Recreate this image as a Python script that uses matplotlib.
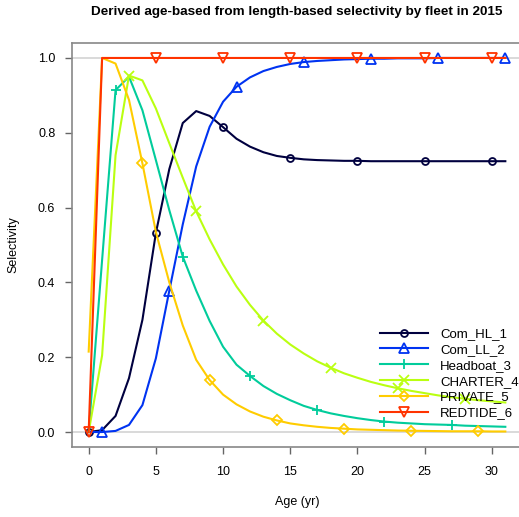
import matplotlib
matplotlib.use("Agg")
import matplotlib.pyplot as plt

plt.rcParams["font.family"] = ["Liberation Sans", "DejaVu Sans"]

ages = list(range(32))

com_hl = [0, 0.005, 0.043, 0.144, 0.30, 0.532, 0.703, 0.826, 0.858, 0.845,
          0.815, 0.784, 0.763, 0.748, 0.738, 0.733, 0.729, 0.727, 0.726, 0.725,
          0.725, 0.724, 0.724, 0.724, 0.724, 0.724, 0.724, 0.724, 0.724, 0.724,
          0.724, 0.724]
com_ll = [0, 0, 0.003, 0.019, 0.072, 0.197, 0.378, 0.555, 0.710, 0.816,
          0.883, 0.923, 0.948, 0.965, 0.976, 0.984, 0.989, 0.992, 0.994, 0.996,
          0.997, 0.998, 0.998, 0.999, 0.999, 0.999, 1.0, 1.0, 1.0, 1.0,
          1.0, 1.0]
headboat = [0, 0.46, 0.914, 0.95, 0.86, 0.727, 0.593, 0.469, 0.378, 0.297,
            0.228, 0.18, 0.15, 0.123, 0.102, 0.085, 0.07, 0.059, 0.05, 0.043,
            0.037, 0.032, 0.028, 0.025, 0.023, 0.021, 0.02, 0.019, 0.017, 0.016,
            0.015, 0.014]
charter = [0, 0.205, 0.74, 0.953, 0.94, 0.865, 0.772, 0.68, 0.59, 0.515,
           0.448, 0.389, 0.34, 0.298, 0.263, 0.234, 0.21, 0.189, 0.172, 0.157,
           0.145, 0.134, 0.125, 0.117, 0.11, 0.104, 0.098, 0.093, 0.089, 0.085,
           0.082, 0.079]
private = [0.215, 1.0, 0.985, 0.888, 0.718, 0.535, 0.40, 0.285, 0.193, 0.139,
           0.1, 0.074, 0.055, 0.041, 0.031, 0.023, 0.018, 0.014, 0.011, 0.009,
           0.007, 0.006, 0.005, 0.004, 0.0035, 0.003, 0.0025, 0.002, 0.002, 0.002,
           0.0015, 0.0015]
redtide = [0, 1.0, 1.0, 1.0, 1.0, 1.0, 1.0, 1.0, 1.0, 1.0,
           1.0, 1.0, 1.0, 1.0, 1.0, 1.0, 1.0, 1.0, 1.0, 1.0,
           1.0, 1.0, 1.0, 1.0, 1.0, 1.0, 1.0, 1.0, 1.0, 1.0,
           1.0, 1.0]

fleets = ["Com_HL_1", "Com_LL_2", "Headboat_3", "CHARTER_4", "PRIVATE_5", "REDTIDE_6"]
series = [com_hl, com_ll, headboat, charter, private, redtide]
colors = ["#00003F", "#0033F1", "#01CC9B", "#BAFF11", "#FFCC00", "#FF3300"]
markers = ["o", "^", "+", "x", "D", "v"]
marker_start = [0, 1, 2, 3, 4, 0]
marker_size = [5, 6.5, 7.5, 6.5, 4.8, 6.5]

fig = plt.figure(figsize=(5.19, 5.17), dpi=100)
ax = fig.add_axes([72 / 519, 70 / 517, 450 / 519, 404 / 517])

# grey reference lines at 0 and 1
ax.axhline(0, color="#D3D3D3", lw=1.2, zorder=1)
ax.axhline(1, color="#D3D3D3", lw=1.2, zorder=1)

for name, vals, col, mk, start, ms in zip(fleets, series, colors, markers, marker_start, marker_size):
    ax.plot(ages, vals, color=col, lw=1.5, marker=mk, markevery=slice(start, None, 5),
            ms=ms, mfc="none", mec=col, mew=1.3, label=name, zorder=2)

ax.set_xlim(-1.24, 32.24)
ax.set_ylim(-0.04, 1.04)
ax.set_xticks([0, 5, 10, 15, 20, 25, 30])
ax.set_yticks([0.0, 0.2, 0.4, 0.6, 0.8, 1.0])
ax.set_yticklabels(["0.0", "0.2", "0.4", "0.6", "0.8", "1.0"])

for side in ["left", "top", "bottom", "right"]:
    ax.spines[side].set_color("#888888")
    ax.spines[side].set_linewidth(1.2)
ax.tick_params(axis="both", colors="#666666", labelcolor="black", labelsize=9,
               length=5, width=1)
ax.tick_params(axis="x", pad=9)
ax.tick_params(axis="y", pad=7)

ax.set_xlabel("Age (yr)", fontsize=9, va="center")
ax.xaxis.set_label_coords(0.5, -0.136)
ax.set_ylabel("Selectivity", fontsize=9, va="center")
ax.yaxis.set_label_coords(-0.131, 0.5)
ax.set_title("Derived age-based from length-based selectivity by fleet in 2015",
             fontsize=9.7, fontweight="bold", y=1.077, pad=0, va="center")

ax.legend(loc="upper left", bbox_to_anchor=(380 / 519, 1 - 328 / 517),
          bbox_transform=fig.transFigure, frameon=False, fontsize=9.5,
          handlelength=3.65, handletextpad=0.9, labelspacing=0.27,
          borderpad=0, borderaxespad=0, numpoints=1)

fig.savefig("out.png", dpi=100)
